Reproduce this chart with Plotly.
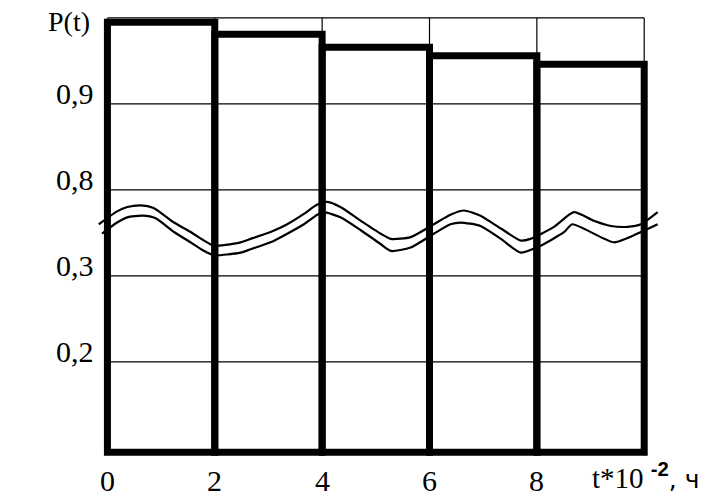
import plotly.graph_objects as go

# ---------------- data ----------------
T_EDGES = [0, 2, 4, 6, 8, 10]                 # interval boundaries, t*10^-2 h
P_VALUES = [0.995, 0.981, 0.966, 0.956, 0.946]  # P(t) on each interval
P_TOP = 1.0                                   # top grid line
P_FLOOR = 0.0947                              # lower edge of the bars

Y_TICK_P = [0.2, 0.3, 0.8, 0.9]
Y_TICK_TEXT = ["0,2", "0,3", "0,8", "0,9"]
X_TICKS = [0, 2, 4, 6, 8]
X_TICK_TEXT = ["0", "2", "4", "6", "8"]

# axis-break marker (double wavy line), in axis units
WAVE_UPPER_T = [-0.16, 0.18, 0.37, 0.62, 0.86, 1.24, 1.55, 1.80, 1.98, 2.20, 2.48, 2.67,
                3.04, 3.35, 3.66, 3.91, 4.10, 4.34, 4.72, 5.09, 5.28, 5.65, 6.08, 6.39,
                6.64, 6.95, 7.33, 7.70, 7.88, 8.32, 8.69, 9.06, 9.38, 9.69, 9.94, 10.25]
WAVE_UPPER_V = [2.60, 2.75, 2.80, 2.82, 2.79, 2.62, 2.51, 2.41, 2.35, 2.36, 2.39, 2.43,
                2.51, 2.60, 2.72, 2.83, 2.86, 2.80, 2.64, 2.49, 2.43, 2.45, 2.60, 2.71,
                2.76, 2.70, 2.55, 2.41, 2.43, 2.57, 2.74, 2.64, 2.58, 2.57, 2.60, 2.74]
WAVE_LOWER_T = [-0.10, 0.18, 0.37, 0.65, 0.90, 1.24, 1.55, 1.80, 1.98, 2.48, 2.67, 3.04,
                3.35, 3.66, 3.91, 4.03, 4.34, 4.72, 5.09, 5.28, 5.65, 6.08, 6.39, 6.58,
                6.95, 7.33, 7.70, 8.07, 8.51, 8.66, 9.44, 9.94, 10.25]
WAVE_LOWER_V = [2.49, 2.62, 2.68, 2.70, 2.67, 2.51, 2.39, 2.29, 2.24, 2.27, 2.31, 2.39,
                2.49, 2.60, 2.71, 2.74, 2.68, 2.53, 2.37, 2.29, 2.33, 2.49, 2.60, 2.62,
                2.58, 2.43, 2.27, 2.35, 2.51, 2.60, 2.39, 2.51, 2.60]


# broken axis: 0.1..0.3 -> 0..2, 0.8..1.0 -> 3..5
def to_axis(p):
    if p <= 0.5:
        return (p - 0.1) / 0.1
    return 3 + (p - 0.8) / 0.1


base_v = to_axis(P_FLOOR)
centers = [(a + b) / 2 for a, b in zip(T_EDGES[:-1], T_EDGES[1:])]
widths = [b - a for a, b in zip(T_EDGES[:-1], T_EDGES[1:])]
heights = [to_axis(p) - base_v for p in P_VALUES]

fig = go.Figure()
fig.add_trace(go.Bar(
    x=centers, y=heights, base=base_v, width=widths,
    marker=dict(color="rgba(0,0,0,0)", line=dict(color="black", width=7)),
    hoverinfo="skip", showlegend=False,
))
for tx, ty in ((WAVE_UPPER_T, WAVE_UPPER_V), (WAVE_LOWER_T, WAVE_LOWER_V)):
    fig.add_trace(go.Scatter(
        x=tx, y=ty, mode="lines",
        line=dict(color="black", width=2.2, shape="spline", smoothing=0.6),
        hoverinfo="skip", showlegend=False,
    ))

shapes = []
for p in Y_TICK_P + [P_TOP]:
    v = to_axis(p)
    shapes.append(dict(type="line", xref="x", yref="y", x0=T_EDGES[0], x1=T_EDGES[-1],
                       y0=v, y1=v, line=dict(color="black", width=1.2), layer="below"))
for t in T_EDGES:
    shapes.append(dict(type="line", xref="x", yref="y", x0=t, x1=t,
                       y0=base_v, y1=to_axis(P_TOP), line=dict(color="black", width=1.2),
                       layer="below"))

SERIF = "Liberation Serif"
annotations = []
for p, txt in zip(Y_TICK_P, Y_TICK_TEXT):
    annotations.append(dict(x=T_EDGES[0], y=to_axis(p), xref="x", yref="y", text=txt,
                            showarrow=False, xanchor="right", yanchor="middle",
                            xshift=-11, yshift=10,
                            font=dict(family=SERIF, size=30, color="black")))
for t, txt in zip(X_TICKS, X_TICK_TEXT):
    annotations.append(dict(x=t, y=base_v, xref="x", yref="y", text=txt,
                            showarrow=False, xanchor="center", yanchor="middle",
                            yshift=-28,
                            font=dict(family=SERIF, size=30, color="black")))
annotations.append(dict(x=T_EDGES[0], y=to_axis(P_TOP), xref="x", yref="y", text="P(t)",
                        showarrow=False, xanchor="right", yanchor="middle",
                        xshift=-15, yshift=-4,
                        font=dict(family=SERIF, size=28, color="black")))
annotations.append(dict(
    x=1, y=base_v, xref="paper", yref="y",
    text=("t*10 <sup><b><span style=\"font-family:Liberation Sans\">-2</span></b></sup>"
          "<span style=\"font-family:DejaVu Sans;font-size:25px\">, ч</span>"),
    showarrow=False, xanchor="right", yanchor="middle", xshift=39, yshift=-24,
    font=dict(family=SERIF, size=29, color="black")))

fig.update_layout(
    width=704, height=496,
    margin=dict(l=94, r=41, t=5, b=31),
    paper_bgcolor="white", plot_bgcolor="white",
    xaxis=dict(range=[-0.25, 10.35], showgrid=False, zeroline=False, showline=False,
               showticklabels=False, ticks="", fixedrange=True),
    yaxis=dict(range=[-0.2, 5.15], showgrid=False, zeroline=False, showline=False,
               showticklabels=False, ticks="", fixedrange=True),
    shapes=shapes, annotations=annotations,
)
fig.write_html("out.html", config={"displayModeBar": False},
               post_script="document.body.style.margin='0';")
